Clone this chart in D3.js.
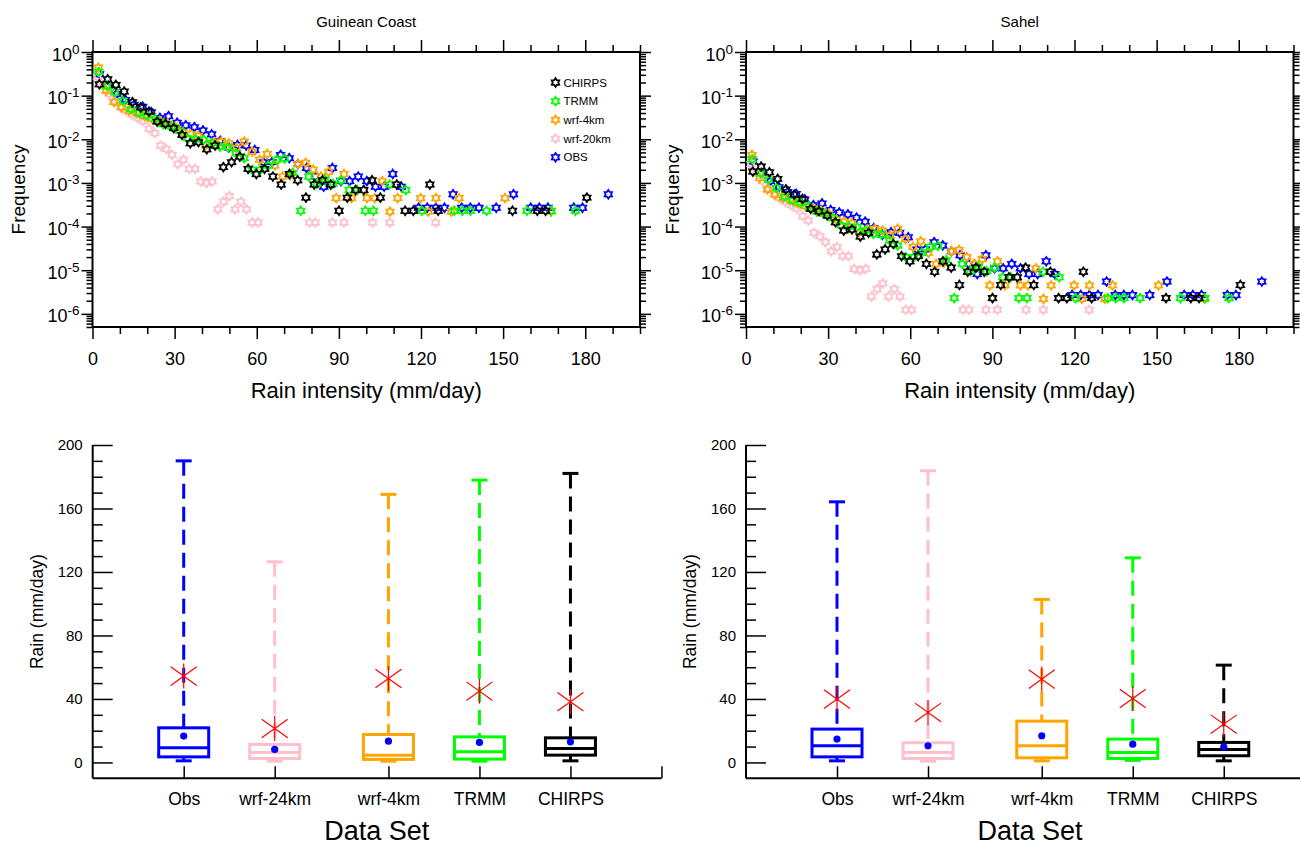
<!DOCTYPE html>
<html lang="en">
<head>
<meta charset="UTF-8">
<title>Rain intensity frequency and box plots</title>
<style>
  body { margin: 0; background: #fff; }
  svg { font-family: "Liberation Sans", Arial, Helvetica, sans-serif; }
</style>
</head>
<body>
<script src="https://d3js.org/d3.v7.min.js"></script>
<script>
// ---- frequency curves: 60 bins between each data set's min and max (mm/day) ----
const seriesNames = ["CHIRPS", "TRMM", "wrf-4km", "wrf-20km", "OBS"];
const seriesColors = ["#000000", "#00ff00", "#ffa500", "#ffc0cb", "#0000ff"];
const binLo = [1.0, 0.8, 0.8, 0.8, 1.0];
const binHi = [182.1, 177.9, 168.9, 126.4, 190.0];
const binCount = 60;

// Guinean Coast
const gcChirps = [
  0.182, 0.237, 0.176, 0.124, 0.071, 0.054, 0.043, 0.0254, 0.0225, 0.018,
  0.0126, 0.0081, 0.0086, 0.0059, 0.0072, 0.0023, 0.003, 0.004, 0.0021, 0.0016,
  0.0021, 0.0014, 0.00092, 0.0016, 0.00115, 0.00046, 0.00092, 0.00115, 0.00092, 0.00023,
  0.00046, 0.00069, 0.00069, 0.00115, 0.00046, null, 0.00092, 0.00023, 0.00023, null,
  0.00092, 0.00023, null, null, null, null, null, null, null, null,
  0.00023, null, null, 0.00023, 0.00023, null, null, null, null, 0.00046];
const gcTrmm = [
  0.35, 0.167, 0.12, 0.077, 0.049, 0.04, 0.035, 0.029, 0.022, 0.0195,
  0.0156, 0.0106, 0.01, 0.0097, 0.0081, 0.0068, 0.0066, 0.0048, 0.0037, 0.002,
  0.002, 0.0025, 0.0034, 0.0036, 0.0017, 0.00023, 0.0014, 0.00095, 0.0012, 0.00095,
  0.00115, 0.00069, 0.00069, 0.00023, 0.00023, null, 0.00092, null, 0.00069, null,
  0.00023, null, null, null, 0.00023, 0.00023, 0.00023, null, 0.00023, null,
  null, null, null, 0.00023, null, null, 0.00023, null, null, 0.00023];
const gcWrf4 = [
  0.44, 0.13, 0.071, 0.054, 0.045, 0.04, 0.034, 0.029, 0.026, 0.023,
  0.0195, 0.0145, 0.013, 0.012, 0.0074, 0.0085, 0.0089, 0.0081, 0.0063, 0.0089,
  0.0052, 0.0034, 0.0046, 0.0025, 0.0014, 0.0015, 0.0027, 0.0029, 0.002, 0.0014,
  0.0018, 0.00045, 0.0016, 0.00045, null, 0.00045, 0.00045, 0.0011, 0.00022, 0.00045,
  null, null, 0.00045, 0.00022, 0.00045, null, 0.00022, 0.00045, null, null,
  null, null, null, 0.00045, null, null, null, null, null, 0.00022];
const gcWrf20 = [
  0.27, 0.17, 0.11, 0.075, 0.055, 0.045, 0.037, 0.031, 0.026, 0.0173,
  0.0138, 0.0072, 0.006, 0.0044, 0.0027, 0.0034, 0.0021, 0.0021, 0.00108, 0.00099,
  0.00108, 0.00025, 0.00037, 0.0005, 0.00025, 0.00037, 0.00025, 0.000124, 0.000124, null,
  null, null, null, null, null, null, null, 0.000124, 0.000124, null,
  null, 0.000124, null, 0.000124, null, null, null, null, 0.000124, null,
  null, 0.000124, null, null, null, null, null, null, null, 0.000124];
const gcObs = [
  0.31, 0.17, 0.11, 0.08, 0.062, 0.056, 0.042, 0.031, 0.034, 0.024,
  0.021, 0.019, 0.016, 0.013, 0.0092, 0.0065, 0.0074, 0.0072, 0.0057, 0.003,
  0.003, 0.0044, 0.0037, 0.0027, 0.0022, 0.0014, 0.00082, 0.0022, 0.0011, 0.0011,
  0.0014, 0.0011, 0.00082, 0.00082, 0.0016, 0.00082, null, 0.00027, 0.00027, 0.00027,
  0.00027, 0.00055, 0.00027, 0.00027, 0.00027, null, 0.00027, null, 0.00055, null,
  0.00027, 0.00027, 0.00027, null, null, 0.00027, 0.00027, null, null, 0.00055];

// Sahel
const shChirps = [
  1.82e-3, 2.37e-3, 1.76e-3, 1.24e-3, 7.1e-4, 5.4e-4, 4.3e-4, 2.54e-4, 2.25e-4, 1.8e-4,
  1.26e-4, 8.1e-5, 8.6e-5, 5.9e-5, 7.2e-5, 2.3e-5, 3.0e-5, 4.0e-5, 2.1e-5, 1.6e-5,
  2.1e-5, 1.4e-5, 9.2e-6, 1.6e-5, 1.15e-5, 4.6e-6, 9.2e-6, 1.15e-5, 9.2e-6, 2.3e-6,
  4.6e-6, 6.9e-6, 6.9e-6, 1.15e-5, 4.6e-6, null, 9.2e-6, 2.3e-6, 2.3e-6, null,
  9.2e-6, 2.3e-6, null, null, null, null, null, null, null, null,
  2.3e-6, null, null, 2.3e-6, 2.3e-6, null, null, null, null, 4.6e-6];
const shTrmm = [
  3.5e-3, 1.67e-3, 1.2e-3, 7.7e-4, 4.9e-4, 4.0e-4, 3.5e-4, 2.9e-4, 2.2e-4, 1.95e-4,
  1.56e-4, 1.06e-4, 1.0e-4, 9.7e-5, 8.1e-5, 6.8e-5, 6.6e-5, 4.8e-5, 3.7e-5, 2.0e-5,
  2.0e-5, 2.5e-5, 3.4e-5, 3.6e-5, 1.7e-5, 2.3e-6, 1.4e-5, 9.5e-6, 1.2e-5, 9.5e-6,
  1.15e-5, 6.9e-6, 6.9e-6, 2.3e-6, 2.3e-6, null, 9.2e-6, null, 6.9e-6, null,
  2.3e-6, null, null, null, 2.3e-6, 2.3e-6, 2.3e-6, null, 2.3e-6, null,
  null, null, null, 2.3e-6, null, null, 2.3e-6, null, null, 2.3e-6];
const shWrf4 = [
  4.4e-3, 1.3e-3, 7.1e-4, 5.4e-4, 4.5e-4, 4.0e-4, 3.4e-4, 2.9e-4, 2.6e-4, 2.3e-4,
  1.95e-4, 1.45e-4, 1.3e-4, 1.2e-4, 7.4e-5, 8.5e-5, 8.9e-5, 8.1e-5, 6.3e-5, 8.9e-5,
  5.2e-5, 3.4e-5, 4.6e-5, 2.5e-5, 1.4e-5, 1.5e-5, 2.7e-5, 2.9e-5, 2.0e-5, 1.4e-5,
  1.8e-5, 4.5e-6, 1.6e-5, 4.5e-6, null, 4.5e-6, 4.5e-6, 1.1e-5, 2.2e-6, 4.5e-6,
  null, null, 4.5e-6, 2.2e-6, 4.5e-6, null, 2.2e-6, 4.5e-6, null, null,
  null, null, null, 4.5e-6, null, null, null, null, null, 2.2e-6];
const shWrf20 = [
  2.7e-3, 1.7e-3, 1.1e-3, 7.5e-4, 5.5e-4, 4.5e-4, 3.7e-4, 3.1e-4, 2.6e-4, 1.73e-4,
  1.38e-4, 7.2e-5, 6.0e-5, 4.4e-5, 2.7e-5, 3.4e-5, 2.1e-5, 2.1e-5, 1.08e-5, 9.9e-6,
  1.08e-5, 2.5e-6, 3.7e-6, 5.0e-6, 2.5e-6, 3.7e-6, 2.5e-6, 1.24e-6, 1.24e-6, null,
  null, null, null, null, null, null, null, 1.24e-6, 1.24e-6, null,
  null, 1.24e-6, null, 1.24e-6, null, null, null, null, 1.24e-6, null,
  null, 1.24e-6, null, null, null, null, null, null, null, 1.24e-6];
const shObs = [
  3.1e-3, 1.7e-3, 1.1e-3, 8.0e-4, 6.2e-4, 5.6e-4, 4.2e-4, 3.1e-4, 3.4e-4, 2.4e-4,
  2.1e-4, 1.9e-4, 1.6e-4, 1.3e-4, 9.2e-5, 6.5e-5, 7.4e-5, 7.2e-5, 5.7e-5, 3.0e-5,
  3.0e-5, 4.4e-5, 3.7e-5, 2.7e-5, 2.2e-5, 1.4e-5, 8.2e-6, 2.2e-5, 1.1e-5, 1.1e-5,
  1.4e-5, 1.1e-5, 8.2e-6, 8.2e-6, 1.6e-5, 8.2e-6, null, 2.7e-6, 2.7e-6, 2.7e-6,
  2.7e-6, 5.5e-6, 2.7e-6, 2.7e-6, 2.7e-6, null, 2.7e-6, null, 5.5e-6, null,
  2.7e-6, 2.7e-6, 2.7e-6, null, null, 2.7e-6, 2.7e-6, null, null, 5.5e-6];

const freqXTicks = [0, 30, 60, 90, 120, 150, 180];
const freqYExp = [0, -1, -2, -3, -4, -5, -6];

// ---- box plots ----
const boxCats = ["Obs", "wrf-24km", "wrf-4km", "TRMM", "CHIRPS"];
const boxSlot = [1, 2, 3.25, 4.25, 5.25];
const boxColors = ["#0000ff", "#ffc0cb", "#ffa500", "#00ff00", "#000000"];
const boxYTicks = [0, 40, 80, 120, 160, 200];

const gcMin = [1.0, 0.8, 0.8, 0.8, 1.0];
const gcQ1 = [3.5, 2.5, 1.9, 2.1, 4.6];
const gcMed = [9.2, 6.3, 4.6, 6.7, 8.8];
const gcQ3 = [21.8, 11.3, 17.6, 16.1, 15.5];
const gcMax = [190.0, 126.4, 168.9, 177.9, 182.1];
const gcMean = [16.6, 8.2, 13.4, 12.6, 13.0];
const gcHigh = [54.4, 21.4, 52.9, 44.9, 38.2];

const shMin = [1.0, 0.8, 1.0, 1.3, 1.0];
const shQ1 = [3.5, 2.5, 2.9, 2.5, 4.2];
const shMed = [10.5, 6.3, 10.5, 6.3, 8.2];
const shQ3 = [21.0, 12.4, 26.0, 14.7, 12.6];
const shMax = [164.2, 183.8, 102.7, 128.9, 61.3];
const shMean = [14.7, 10.5, 16.8, 11.5, 9.8];
const shHigh = [39.9, 31.5, 52.5, 40.3, 24.1];

const svg = d3.select("body").append("svg")
    .attr("width", 1300)
    .attr("height", 847);

// six pointed star outline used for the frequency markers
function hexagram(r) {
    const pts = d3.range(12).map(i => {
        const a = -Math.PI / 2 + i * Math.PI / 6;
        const rr = i % 2 === 0 ? r : r * 0.62;
        return [rr * Math.cos(a), rr * Math.sin(a)];
    });
    return "M" + pts.map(p => p[0].toFixed(2) + "," + p[1].toFixed(2)).join("L") + "Z";
}
const markerPath = hexagram(4.3);

function styleAxis(sel) {
    sel.select(".domain").remove();
    sel.selectAll(".tick line").attr("stroke", "#000").attr("stroke-width", 1.5);
    return sel;
}

function freqPanel(left, title, values, withLegend) {
    const top = 52, bottom = 327, right = left + 547.5;
    const g = svg.append("g");
    const x = d3.scaleLinear().domain([0, 200]).range([left, right]);
    const y = d3.scaleLog().domain([5e-7, 1]).range([bottom, top]);

    const xMinor = d3.range(0, 201, 10).filter(v => v % 30 !== 0);
    const yMajor = freqYExp.map(e => Math.pow(10, e));
    const yMinor = [];
    for (let e = -7; e < 0; e++) {
        for (let m = 2; m <= 9; m++) {
            const v = m * Math.pow(10, e);
            if (v >= 5e-7 && v < 1) yMinor.push(v);
        }
    }

    // ticks on all four sides, pointing outward
    styleAxis(g.append("g").attr("transform", `translate(0,${bottom})`)
        .call(d3.axisBottom(x).tickValues(freqXTicks).tickSize(12).tickPadding(13)
            .tickFormat(d3.format("d"))))
        .selectAll("text").attr("font-size", 18).attr("fill", "#000");
    styleAxis(g.append("g").attr("transform", `translate(0,${bottom})`)
        .call(d3.axisBottom(x).tickValues(xMinor).tickSize(7).tickFormat("")));
    styleAxis(g.append("g").attr("transform", `translate(0,${top})`)
        .call(d3.axisTop(x).tickValues(freqXTicks).tickSize(12).tickFormat("")));
    styleAxis(g.append("g").attr("transform", `translate(0,${top})`)
        .call(d3.axisTop(x).tickValues(xMinor).tickSize(7).tickFormat("")));
    styleAxis(g.append("g").attr("transform", `translate(${left},0)`)
        .call(d3.axisLeft(y).tickValues(yMajor).tickSize(11).tickFormat("")));
    styleAxis(g.append("g").attr("transform", `translate(${left},0)`)
        .call(d3.axisLeft(y).tickValues(yMinor).tickSize(6).tickFormat("")));
    styleAxis(g.append("g").attr("transform", `translate(${right},0)`)
        .call(d3.axisRight(y).tickValues(yMajor).tickSize(11).tickFormat("")));
    styleAxis(g.append("g").attr("transform", `translate(${right},0)`)
        .call(d3.axisRight(y).tickValues(yMinor).tickSize(6).tickFormat("")));

    // 10^n labels
    freqYExp.forEach(e => {
        const t = g.append("text")
            .attr("x", left - 13)
            .attr("y", y(Math.pow(10, e)) + 8.5)
            .attr("text-anchor", "end")
            .attr("font-size", 18);
        t.append("tspan").text("10");
        t.append("tspan").attr("font-size", 13.5).attr("dy", -7).text(String(e));
    });

    g.append("rect")
        .attr("x", left).attr("y", top)
        .attr("width", right - left).attr("height", bottom - top)
        .attr("fill", "none").attr("stroke", "#000").attr("stroke-width", 2);

    g.append("text")
        .attr("x", (left + right) / 2).attr("y", 27)
        .attr("text-anchor", "middle").attr("font-size", 15)
        .text(title);
    g.append("text")
        .attr("x", (left + right) / 2).attr("y", 398)
        .attr("text-anchor", "middle").attr("font-size", 22)
        .text("Rain intensity (mm/day)");
    g.append("text")
        .attr("transform", `translate(${left - 74},${(top + bottom) / 2}) rotate(-90)`)
        .attr("text-anchor", "middle").attr("dominant-baseline", "central")
        .attr("font-size", 19)
        .text("Frequency");

    // draw OBS first and CHIRPS last
    [4, 3, 2, 1, 0].forEach(s => {
        const w = (binHi[s] - binLo[s]) / binCount;
        const pts = values[s]
            .map((v, k) => ({ r: binLo[s] + (k + 0.5) * w, v: v }))
            .filter(d => d.v !== null);
        g.append("g").selectAll("path")
            .data(pts)
            .enter()
            .append("path")
            .attr("d", markerPath)
            .attr("transform", d => `translate(${x(d.r)},${y(d.v)})`)
            .attr("fill", "none")
            .attr("stroke", seriesColors[s])
            .attr("stroke-width", 1.8);
    });

    if (withLegend) {
        seriesNames.forEach((name, i) => {
            const ly = 82.5 + i * 18.7;
            g.append("path")
                .attr("d", markerPath)
                .attr("transform", `translate(${left + 463},${ly})`)
                .attr("fill", "none")
                .attr("stroke", seriesColors[i])
                .attr("stroke-width", 1.8);
            g.append("text")
                .attr("x", left + 471).attr("y", ly)
                .attr("dominant-baseline", "central")
                .attr("font-size", 11.5)
                .text(name);
        });
    }
}

function boxPanel(left, st) {
    const g = svg.append("g");
    const x = d3.scaleLinear().domain([0, 6.25]).range([left, left + 568.75]);
    const y = d3.scaleLinear().domain([-10, 200]).range([778.3, 445]);

    // spines
    g.append("line")
        .attr("x1", left).attr("x2", left)
        .attr("y1", y(200)).attr("y2", y(-10))
        .attr("stroke", "#000").attr("stroke-width", 2);
    g.append("line")
        .attr("x1", left).attr("x2", x(6.25))
        .attr("y1", y(-10)).attr("y2", y(-10))
        .attr("stroke", "#000").attr("stroke-width", 2);

    styleAxis(g.append("g").attr("transform", `translate(${left},0)`)
        .call(d3.axisLeft(y).tickValues(boxYTicks).tickSize(-20).tickPadding(10)))
        .selectAll("text").attr("font-size", 15).attr("fill", "#000");
    styleAxis(g.append("g").attr("transform", `translate(${left},0)`)
        .call(d3.axisLeft(y).tickValues(d3.range(10, 200, 10).filter(v => v % 40 !== 0))
            .tickSize(-10).tickFormat("")));
    styleAxis(g.append("g").attr("transform", `translate(0,${y(-10)})`)
        .call(d3.axisBottom(x).tickValues(boxSlot.concat([6.25])).tickSize(-12).tickPadding(14)
            .tickFormat((d, i) => boxCats[i] || "")))
        .selectAll("text").attr("font-size", 17.5).attr("fill", "#000");

    g.append("text")
        .attr("transform", `translate(${left - 56},${(y(200) + y(-10)) / 2}) rotate(-90)`)
        .attr("text-anchor", "middle").attr("dominant-baseline", "central")
        .attr("font-size", 17.5)
        .text("Rain (mm/day)");
    g.append("text")
        .attr("x", left + 284).attr("y", 840)
        .attr("text-anchor", "middle").attr("font-size", 27)
        .text("Data Set");

    boxCats.forEach((c, i) => {
        const cx = x(boxSlot[i]);
        const col = boxColors[i];
        // upper whisker, dashed from the cap down to the box
        g.append("line")
            .attr("x1", cx).attr("x2", cx)
            .attr("y1", y(st.max[i])).attr("y2", y(st.q3[i]))
            .attr("stroke", col).attr("stroke-width", 3)
            .attr("stroke-dasharray", "15,8");
        g.append("line")
            .attr("x1", cx).attr("x2", cx)
            .attr("y1", y(st.q1[i])).attr("y2", y(st.min[i]))
            .attr("stroke", col).attr("stroke-width", 3);
        [st.max[i], st.min[i]].forEach(v => {
            g.append("line")
                .attr("x1", cx - 8).attr("x2", cx + 8)
                .attr("y1", y(v)).attr("y2", y(v))
                .attr("stroke", col).attr("stroke-width", 3);
        });
        g.append("rect")
            .attr("x", cx - 25).attr("y", y(st.q3[i]))
            .attr("width", 50).attr("height", y(st.q1[i]) - y(st.q3[i]))
            .attr("fill", "none").attr("stroke", col).attr("stroke-width", 3);
        g.append("line")
            .attr("x1", cx - 25).attr("x2", cx + 25)
            .attr("y1", y(st.med[i])).attr("y2", y(st.med[i]))
            .attr("stroke", col).attr("stroke-width", 3);
        g.append("circle")
            .attr("cx", cx).attr("cy", y(st.mean[i])).attr("r", 3.6)
            .attr("fill", "#0000ff");
        // red asterisk
        const sy = y(st.high[i]);
        [[0, -12.5, 0, 12.5], [-13, -9.3, 13, 9.3], [-13, 9.3, 13, -9.3]].forEach(a => {
            g.append("line")
                .attr("x1", cx + a[0]).attr("y1", sy + a[1])
                .attr("x2", cx + a[2]).attr("y2", sy + a[3])
                .attr("stroke", "#ff0000").attr("stroke-width", 1.2);
        });
    });
}

freqPanel(92.5, "Guinean Coast", [gcChirps, gcTrmm, gcWrf4, gcWrf20, gcObs], true);
freqPanel(746, "Sahel", [shChirps, shTrmm, shWrf4, shWrf20, shObs], false);

boxPanel(92.7, { min: gcMin, q1: gcQ1, med: gcMed, q3: gcQ3, max: gcMax, mean: gcMean, high: gcHigh });
boxPanel(746, { min: shMin, q1: shQ1, med: shMed, q3: shQ3, max: shMax, mean: shMean, high: shHigh });
</script>
</body>
</html>
